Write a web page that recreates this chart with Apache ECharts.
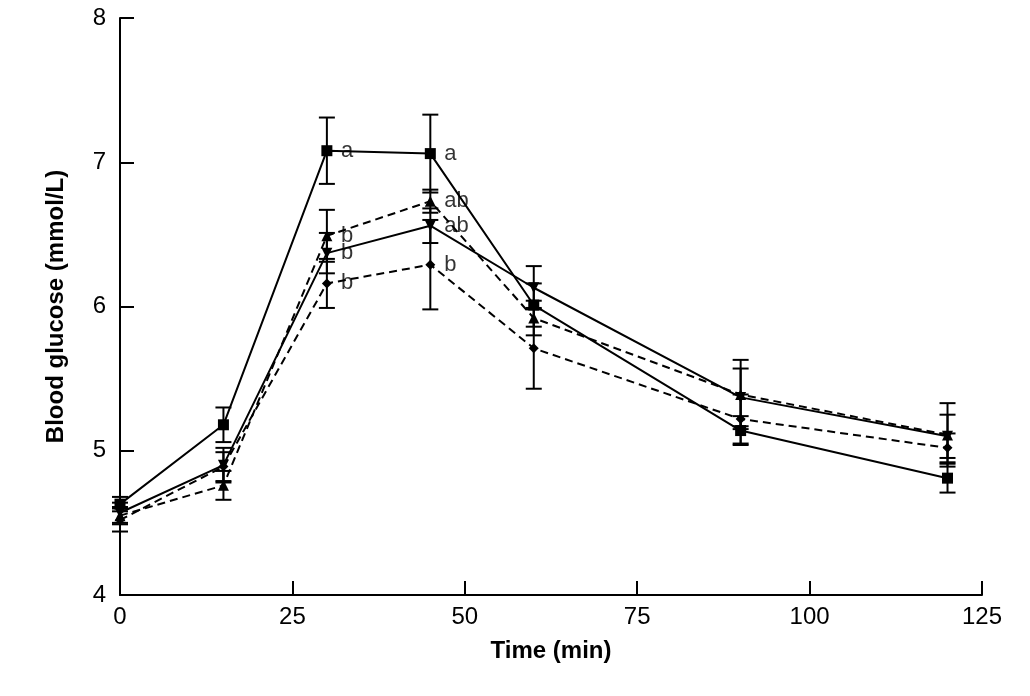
<!DOCTYPE html>
<html><head><meta charset="utf-8">
<script src="https://cdn.jsdelivr.net/npm/echarts@6/dist/echarts.min.js"></script>
<style>body{margin:0;background:#fff}#c{width:1030px;height:696px}</style>
</head><body><div id="c"></div>
<script>
var times = [0, 15, 30, 45, 60, 90, 120];
var squareVals = [4.63, 5.18, 7.08, 7.06, 6.01, 5.14, 4.81];
var squareErr = [0.05, 0.12, 0.23, 0.27, 0.15, 0.1, 0.1];
var triUpVals = [4.55, 4.76, 6.49, 6.73, 5.92, 5.39, 5.11];
var triUpErr = [0.06, 0.1, 0.18, 0.08, 0.12, 0.24, 0.22];
var triDownVals = [4.57, 4.9, 6.37, 6.56, 6.13, 5.37, 5.1];
var triDownErr = [0.07, 0.12, 0.14, 0.12, 0.15, 0.2, 0.15];
var diamondVals = [4.52, 4.89, 6.16, 6.29, 5.71, 5.22, 5.02];
var diamondErr = [0.08, 0.1, 0.17, 0.31, 0.28, 0.17, 0.1];
var letters30 = ['a', 'b', 'b', 'b'];
var letters45 = ['a', 'ab', 'ab', 'b'];

var myChart = echarts.init(document.getElementById('c'));
var groups = [
  {vals: squareVals, err: squareErr, sym: 'rect', size: 11, dash: 'solid'},
  {vals: triUpVals, err: triUpErr, sym: 'triangle', size: 11, dash: [8, 5]},
  {vals: triDownVals, err: triDownErr, sym: 'path://M0,0L10,0L5,10Z', size: 11, dash: 'solid'},
  {vals: diamondVals, err: diamondErr, sym: 'diamond', size: 10, dash: [8, 5]}
];
var series = [];
groups.forEach(function (g, gi) {
  var pts = times.map(function (t, i) { return [t, g.vals[i]]; });
  series.push({
    type: 'line', data: pts, symbol: g.sym, symbolSize: g.size,
    lineStyle: {color: '#000', width: 2, type: g.dash},
    itemStyle: {color: '#000'}, z: 3
  });
  series.push({
    type: 'custom',
    data: times.map(function (t, i) { return [t, g.vals[i] - g.err[i], g.vals[i] + g.err[i]]; }),
    renderItem: function (params, api) {
      var lo = api.coord([api.value(0), api.value(1)]);
      var hi = api.coord([api.value(0), api.value(2)]);
      var w = 8;
      var st = {stroke: '#000', lineWidth: 2};
      return {type: 'group', children: [
        {type: 'line', shape: {x1: lo[0], y1: lo[1], x2: hi[0], y2: hi[1]}, style: st},
        {type: 'line', shape: {x1: lo[0] - w, y1: lo[1], x2: lo[0] + w, y2: lo[1]}, style: st},
        {type: 'line', shape: {x1: hi[0] - w, y1: hi[1], x2: hi[0] + w, y2: hi[1]}, style: st}
      ]};
    }, z: 2
  });
  series.push({
    type: 'scatter', symbolSize: 0, silent: true,
    data: [[30, g.vals[2], letters30[gi]], [45, g.vals[3], letters45[gi]]],
    label: {show: true, position: 'right', distance: 14, color: '#000', fontSize: 22,
      fontFamily: 'Liberation Sans', formatter: function (p) { return p.data[2]; }}
  });
});

var option = {
  animation: false,
  grid: {left: 120, right: 48, top: 18, bottom: 101},
  xAxis: {
    type: 'value', min: 0, max: 125, interval: 25,
    name: 'Time (min)', nameLocation: 'middle', nameGap: 44,
    nameTextStyle: {fontSize: 24, fontWeight: 'bold', color: '#000', fontFamily: 'Liberation Sans'},
    axisLine: {lineStyle: {color: '#000', width: 2}},
    axisTick: {inside: true, length: 14, lineStyle: {color: '#000', width: 2}},
    axisLabel: {fontSize: 24, color: '#000', margin: 10, fontFamily: 'Liberation Sans'},
    splitLine: {show: false}
  },
  yAxis: {
    type: 'value', min: 4, max: 8, interval: 1,
    name: 'Blood glucose (mmol/L)', nameLocation: 'middle', nameGap: 52,
    nameTextStyle: {fontSize: 24, fontWeight: 'bold', color: '#000', fontFamily: 'Liberation Sans'},
    axisLine: {show: true, lineStyle: {color: '#000', width: 2}},
    axisTick: {show: true, inside: true, length: 14, lineStyle: {color: '#000', width: 2}},
    axisLabel: {fontSize: 24, color: '#000', margin: 14, fontFamily: 'Liberation Sans'},
    splitLine: {show: false}
  },
  series: series
};
myChart.setOption(option);
</script></body></html>
